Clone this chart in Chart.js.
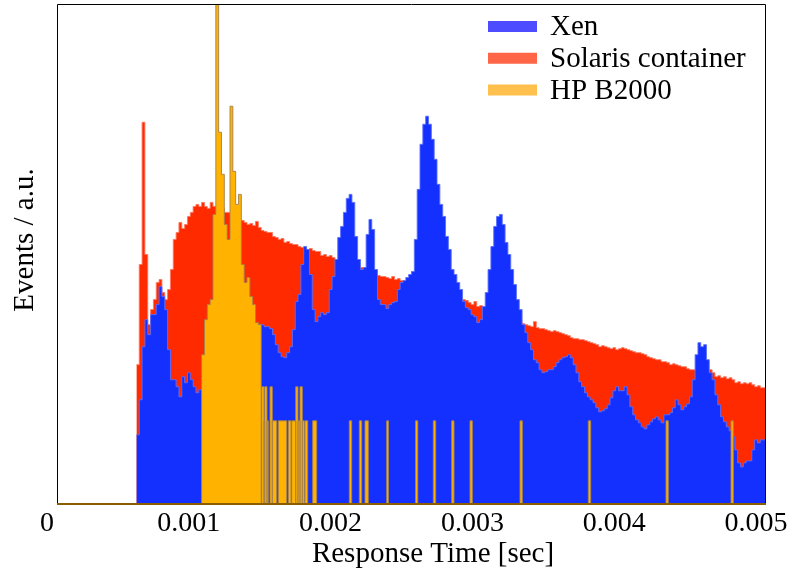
<!DOCTYPE html>
<html lang="en-US">
<head>
  <meta charset="utf-8">
  <title>Response time histograms</title>
  <script src="https://cdn.jsdelivr.net/npm/chart.js@4/dist/chart.umd.min.js"></script>
  <style>
  html, body { margin: 0; padding: 0; background: #fff; }
  #holder { width: 803px; height: 573px; }
  </style>
</head>
<body>
  <div id="holder"><canvas id="chart"></canvas></div>
  <script>
    // histogram binning (seconds)
    var binStart = 0.00056;
    var binWidth = 0.00002;
    var xMax = 0.005;

    // Xen, counts per bin (a.u.), starting at binStart
    var xenCounts = [
      70, 105, 158, 185, 170, 190, 190, 200, 218, 208, 195, 155, 125, 125, 118, 108, 128, 122, 132, 125,
      118, 112, 115, 125, 135, 142, 150, 155, 160, 164, 168, 170, 172, 175, 176, 178, 178, 179, 180, 180,
      181, 180, 180, 180, 180, 178, 178, 176, 170, 160, 152, 148, 147, 152, 158, 175, 203, 210, 240, 258,
      255, 230, 195, 183, 188, 192, 190, 192, 215, 228, 245, 267, 278, 292, 306, 310, 302, 268, 245, 235,
      237, 270, 285, 275, 235, 205, 200, 200, 196, 200, 202, 203, 215, 222, 224, 227, 230, 233, 265, 315,
      360, 380, 388, 380, 365, 345, 320, 300, 288, 268, 255, 235, 230, 222, 215, 203, 197, 195, 190, 188,
      182, 185, 198, 212, 235, 258, 278, 288, 290, 280, 262, 250, 235, 220, 205, 195, 180, 172, 162, 155,
      145, 142, 135, 132, 133, 135, 135, 138, 142, 145, 147, 148, 150, 147, 140, 132, 123, 118, 112, 108,
      105, 102, 97, 93, 94, 96, 100, 107, 114, 118, 114, 114, 118, 110, 98, 90, 85, 82, 78, 76,
      80, 83, 86, 88, 85, 82, 90, 90, 92, 97, 105, 100, 95, 98, 101, 108, 125, 150, 162, 158,
      160, 145, 132, 125, 110, 100, 88, 83, 78, 74, 68, 55, 42, 38, 42, 44, 44, 55, 65, 62,
      65, 65
    ];

    // Solaris container, counts per bin (a.u.), starting at binStart
    var solarisCounts = [
      140, 240, 382, 250, 180, 195, 205, 222, 225, 212, 205, 215, 235, 265, 272, 282, 276, 280, 288, 292,
      298, 300, 298, 302, 298, 296, 302, 298, 297, 295, 296, 292, 292, 290, 290, 286, 285, 284, 282, 280,
      281, 279, 283, 277, 274, 273, 272, 272, 268, 267, 265, 266, 262, 263, 261, 260, 260, 258, 257, 256,
      255, 256, 254, 253, 253, 249, 250, 248, 249, 247, 245, 244, 243, 242, 241, 240, 239, 238, 238, 237,
      236, 235, 233, 232, 230, 229, 228, 228, 227, 226, 228, 225, 226, 224, 223, 222, 221, 220, 219, 218,
      217, 216, 215, 214, 213, 212, 211, 210, 209, 208, 207, 206, 206, 205, 205, 205, 204, 202, 200, 203,
      198, 199, 196, 195, 194, 193, 192, 191, 190, 189, 188, 187, 186, 185, 184, 183, 181, 180, 179, 178,
      183, 177, 176, 176, 175, 174, 173, 174, 173, 172, 171, 170, 169, 167, 166, 166, 165, 165, 164, 163,
      162, 161, 160, 158, 159, 158, 157, 156, 157, 155, 156, 157, 156, 155, 154, 153, 152, 152, 151, 150,
      148, 147, 146, 145, 145, 143, 143, 142, 140, 141, 140, 139, 138, 138, 136, 135, 135, 134, 133, 133,
      134, 133, 135, 132, 128, 129, 127, 128, 126, 127, 125, 122, 123, 121, 122, 121, 122, 120, 118, 119,
      117, 117
    ];

    // HP B2000: dense part (bins of binWidth from hpStart) then isolated spikes
    var hpStart = 0.00102;
    var hpCounts = [150, 185, 200, 205, 290, 520, 372, 330, 280, 265, 398, 333, 300, 310, 240, 222, 227, 208, 200, 182, 180];
    var hpSpikeFrom = [
      0.0014436, 0.0014598, 0.0014647, 0.0014810, 0.0015021, 0.0015183, 0.0015607, 0.0016312, 0.0016551,
      0.0016834, 0.0016996, 0.0017137, 0.0017299, 0.0017489, 0.0018032, 0.0020614, 0.0021319, 0.0021721,
      0.0023251, 0.0025282, 0.0026537, 0.0027835, 0.0029126, 0.0032652, 0.0037468, 0.0042948, 0.0047532
    ];
    var hpSpikeTo = [
      0.0014598, 0.0014647, 0.0014810, 0.0014901, 0.0015183, 0.0015494, 0.0016199, 0.0016502, 0.0016834,
      0.0016996, 0.0017137, 0.0017299, 0.0017440, 0.0017680, 0.0018314, 0.0020783, 0.0021488, 0.0021954,
      0.0023378, 0.0025444, 0.0026707, 0.0027997, 0.0029288, 0.0032814, 0.0037638, 0.0043110, 0.0047694
    ];
    var hpSpikeVal = [
      118, 84, 118, 84, 118, 84, 84, 84, 84,
      118, 84, 118, 84, 84, 84, 84, 84, 84,
      84, 84, 84, 84, 84, 84, 84, 84, 84
    ];

    var xTicks = [0, 0.001, 0.002, 0.003, 0.004, 0.005];
    var seriesNames = ['Xen', 'Solaris container', 'HP B2000'];

    var FONT = '"Liberation Serif", "Times New Roman", serif';

    var binsToSteps = function (start, counts) {
      var pts = [];
      counts.forEach(function (c, i) {
        pts.push({ x: start + i * binWidth, y: c });
      });
      pts.push({ x: start + counts.length * binWidth, y: 0 });
      return pts;
    };

    var hpSteps = function () {
      var pts = [{ x: 0, y: 0 }];
      pts = pts.concat(binsToSteps(hpStart, hpCounts));
      hpSpikeFrom.forEach(function (f, i) {
        pts.push({ x: f, y: hpSpikeVal[i] });
        pts.push({ x: hpSpikeTo[i], y: 0 });
      });
      pts.push({ x: xMax, y: 0 });
      return pts;
    };

    var legendColors = ['#4d4dff', '#ff6647', '#ffc04d'];

    // frame, axis titles and legend drawn the ROOT way
    var decorations = {
      id: 'decorations',
      afterDraw: function (chart) {
        var ctx = chart.ctx;
        var a = chart.chartArea;
        ctx.save();
        ctx.strokeStyle = '#000';
        ctx.lineWidth = 1;
        ctx.beginPath();
        ctx.moveTo(a.left + 0.5, a.bottom);
        ctx.lineTo(a.left + 0.5, a.top + 0.5);
        ctx.lineTo(a.right - 0.5, a.top + 0.5);
        ctx.lineTo(a.right - 0.5, a.bottom);
        ctx.stroke();
        ctx.strokeStyle = '#8a5e00';
        ctx.lineWidth = 2;
        ctx.beginPath();
        ctx.moveTo(a.left, a.bottom - 1);
        ctx.lineTo(a.right, a.bottom - 1);
        ctx.stroke();

        ctx.fillStyle = '#000';
        ctx.font = '29px ' + FONT;
        ctx.textAlign = 'center';
        ctx.textBaseline = 'alphabetic';
        ctx.fillText('Response Time [sec]', 433, 562);

        ctx.translate(33, 240);
        ctx.rotate(-Math.PI / 2);
        ctx.fillText('Events / a.u.', 0, 0);
        ctx.restore();

        ctx.save();
        ctx.font = '29px ' + FONT;
        ctx.textAlign = 'left';
        ctx.textBaseline = 'alphabetic';
        seriesNames.forEach(function (name, i) {
          var base = 35 + i * 31.75;
          ctx.fillStyle = legendColors[i];
          ctx.fillRect(488, base - 14, 49, 11);
          ctx.fillStyle = '#000';
          ctx.fillText(name, 550, base);
        });
        ctx.restore();
      }
    };

    var config = {
      type: 'line',
      data: {
        datasets: [{
          label: seriesNames[0],
          data: binsToSteps(binStart, xenCounts),
          backgroundColor: '#1430ff',
          borderColor: 'rgba(90,110,255,0.9)',
          borderWidth: 1,
          fill: 'origin',
          stepped: true,
          pointRadius: 0,
          order: 1
        }, {
          label: seriesNames[1],
          data: binsToSteps(binStart, solarisCounts),
          backgroundColor: '#ff2a00',
          borderColor: 'rgba(255,120,95,0.9)',
          borderWidth: 1,
          fill: 'origin',
          stepped: true,
          pointRadius: 0,
          order: 2
        }, {
          label: seriesNames[2],
          data: hpSteps(),
          backgroundColor: '#ffb300',
          borderColor: 'rgba(165,130,75,0.9)',
          borderWidth: 1,
          fill: 'origin',
          stepped: true,
          pointRadius: 0,
          order: 0
        }]
      },
      options: {
        responsive: false,
        animation: false,
        events: [],
        layout: {
          padding: { left: 0, top: 4, right: 37, bottom: 0 }
        },
        plugins: {
          legend: { display: false },
          tooltip: { enabled: false }
        },
        scales: {
          x: {
            type: 'linear',
            min: 0,
            max: xMax,
            afterFit: function (scale) { scale.height = 68; },
            afterBuildTicks: function (scale) {
              scale.ticks = xTicks.map(function (v) { return { value: v }; });
            },
            grid: { display: false, drawTicks: false },
            border: { display: false },
            ticks: {
              autoSkip: false,
              maxRotation: 0,
              padding: 2,
              labelOffset: -10,
              color: '#000',
              font: { family: FONT, size: 28 },
              callback: function (v) { return v === 0 ? '0' : v.toFixed(3); }
            }
          },
          y: {
            min: 0,
            max: 500,
            afterFit: function (scale) { scale.width = 57; },
            grid: { display: false, drawTicks: false },
            border: { display: false },
            ticks: { display: false }
          }
        }
      },
      plugins: [decorations]
    };

    var canvas = document.getElementById('chart');
    canvas.width = 803;
    canvas.height = 573;
    window.myChart = new Chart(canvas.getContext('2d'), config);
  </script>
</body>
</html>
